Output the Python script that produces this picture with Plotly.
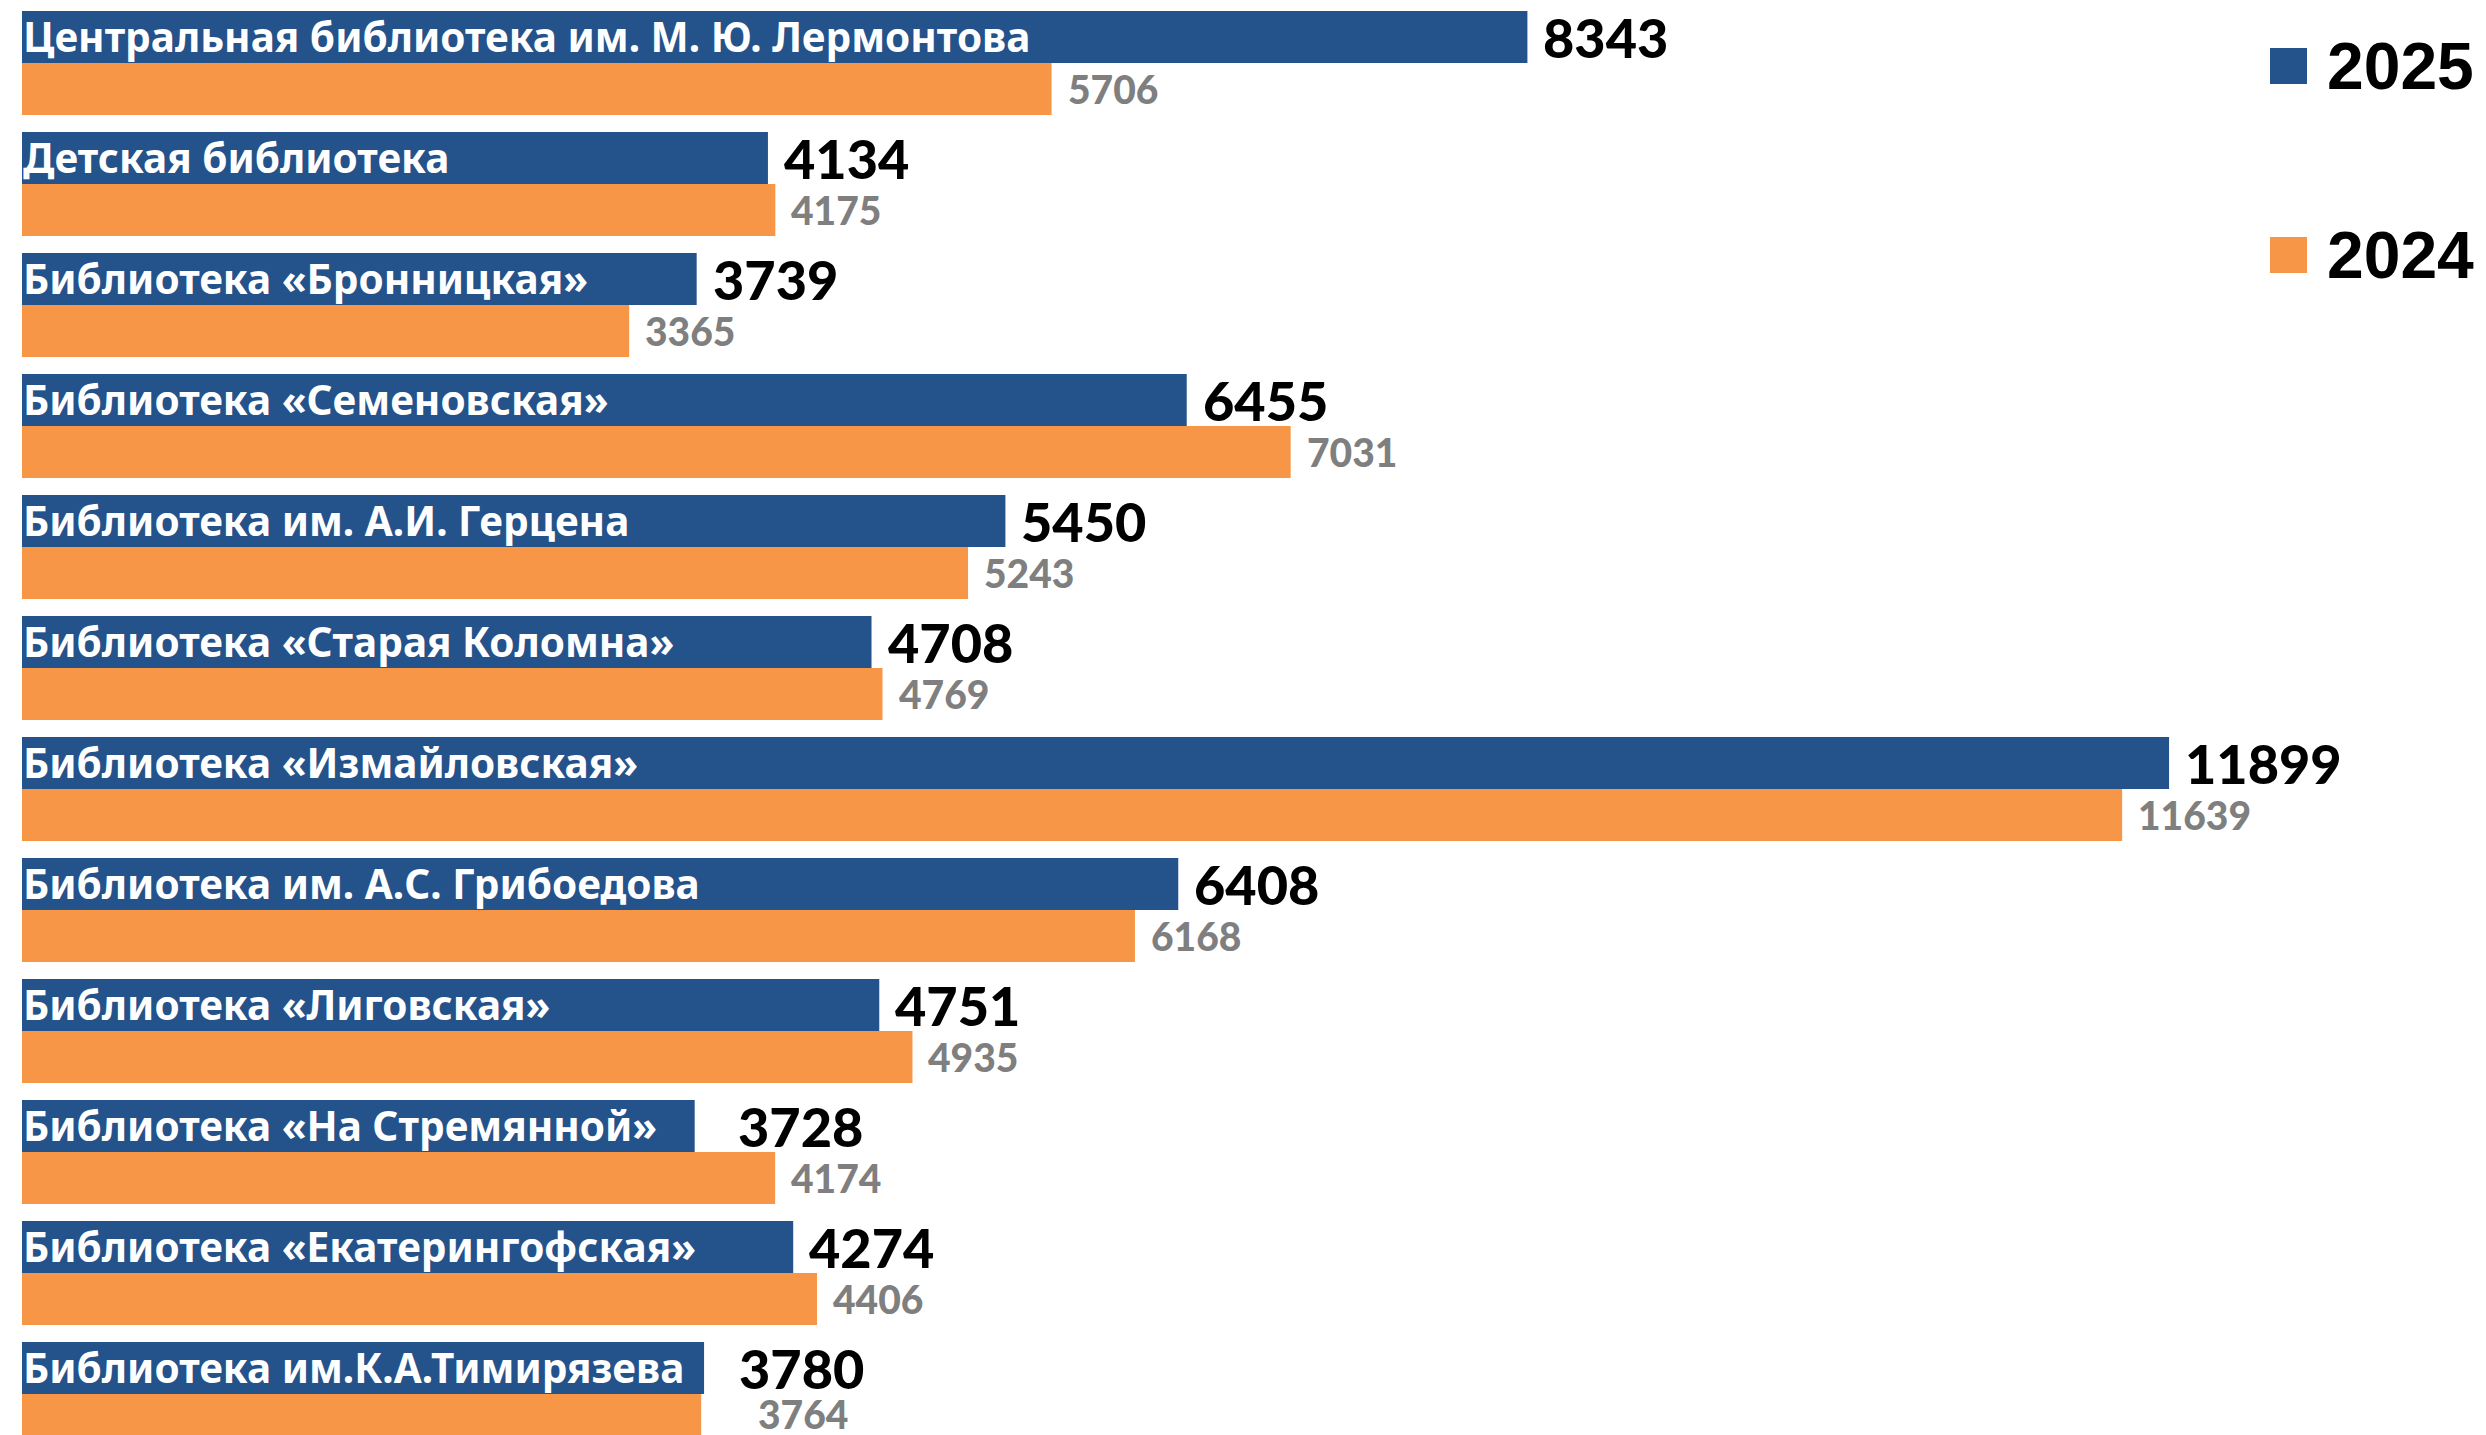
import plotly.graph_objects as go

categories = [
    "Центральная библиотека им. М. Ю. Лермонтова",
    "Детская библиотека",
    "Библиотека «Бронницкая»",
    "Библиотека «Семеновская»",
    "Библиотека им. А.И. Герцена",
    "Библиотека «Старая Коломна»",
    "Библиотека «Измайловская»",
    "Библиотека им. А.С. Грибоедова",
    "Библиотека «Лиговская»",
    "Библиотека «На Стремянной»",
    "Библиотека «Екатерингофская»",
    "Библиотека им.К.А.Тимирязева",
]
values_2025 = [8343, 4134, 3739, 6455, 5450, 4708, 11899, 6408, 4751, 3728, 4274, 3780]
values_2024 = [5706, 4175, 3365, 7031, 5243, 4769, 11639, 6168, 4935, 4174, 4406, 3764]
series_names = ["2025", "2024"]

BLUE = "#24528A"
ORANGE = "#F79646"
GRAY = "#7F7F7F"

OFF = 8  # default page body margin
W, H = 2486 - OFF, 1435 - OFF
LEFT = 22 - OFF
XMAX = (W - LEFT) / 0.18044
BARGAP = 0.14
half = (1 - BARGAP) / 4
ROW = 121.0
YTOP = -2 * half - (11 - OFF) / ROW
YBOT = YTOP + H / ROW

fig = go.Figure()
fig.add_trace(go.Bar(y=categories, x=values_2025, orientation="h", name=series_names[0],
                     marker=dict(color=BLUE, line=dict(width=0)), showlegend=False))
fig.add_trace(go.Bar(y=categories, x=values_2024, orientation="h", name=series_names[1],
                     marker=dict(color=ORANGE, line=dict(width=0)), showlegend=False))

# small manual nudges (x px, y px) of value labels seen in the original
extra_2025 = {"Библиотека «На Стремянной»": (27, 0), "Библиотека им.К.А.Тимирязева": (19, 0)}
extra_2024 = {"Библиотека им.К.А.Тимирязева": (41, 6)}

ann = []
for i, (c, v25, v24) in enumerate(zip(categories, values_2025, values_2024)):
    dx25, dy25 = extra_2025.get(c, (0, 0))
    dx24, dy24 = extra_2024.get(c, (0, 0))
    ann.append(dict(x=0, y=i - half, xref="x", yref="y", text=c, showarrow=False,
                    xanchor="left", yanchor="middle", xshift=0, yshift=1, borderpad=0,
                    font=dict(family="Noto Sans", size=40.5, color="white", weight="bold")))
    ann.append(dict(x=v25, y=i - half, xref="x", yref="y", text=str(v25), showarrow=False,
                    xanchor="left", yanchor="middle", xshift=15 + dx25, yshift=dy25,
                    borderpad=0,
                    font=dict(family="Lato", size=54, color="black", weight=900)))
    ann.append(dict(x=v24, y=i + half, xref="x", yref="y", text=str(v24), showarrow=False,
                    xanchor="left", yanchor="middle", xshift=15 + dx24, yshift=dy24,
                    borderpad=0,
                    font=dict(family="Lato", size=39, color=GRAY, weight=900)))

# manual legend
def px_x(X):
    return (X - OFF - LEFT) / (W - LEFT)

def px_y(Y):
    return 1 - (Y - OFF) / H

shapes = []
for name, col, yc in [(series_names[0], BLUE, 66), (series_names[1], ORANGE, 255)]:
    shapes.append(dict(type="rect", xref="paper", yref="paper",
                       x0=px_x(2270), x1=px_x(2307),
                       y0=px_y(yc + 18), y1=px_y(yc - 18),
                       fillcolor=col, line=dict(width=0)))
    ann.append(dict(x=px_x(2325), y=px_y(yc), xref="paper", yref="paper", text=name,
                    showarrow=False, xanchor="left", yanchor="middle",
                    font=dict(family="Liberation Sans", size=66, color="black", weight="bold")))

fig.update_layout(
    width=W, height=H,
    margin=dict(l=LEFT, r=0, t=0, b=0),
    paper_bgcolor="white", plot_bgcolor="white",
    barmode="group", bargap=BARGAP, bargroupgap=0,
    xaxis=dict(range=[0, XMAX], visible=False, showgrid=False, zeroline=False),
    yaxis=dict(range=[YBOT, YTOP], visible=False, showgrid=False, zeroline=False,
               autorange=False),
    annotations=ann, shapes=shapes, showlegend=False,
)
fig.write_html("out.html")
